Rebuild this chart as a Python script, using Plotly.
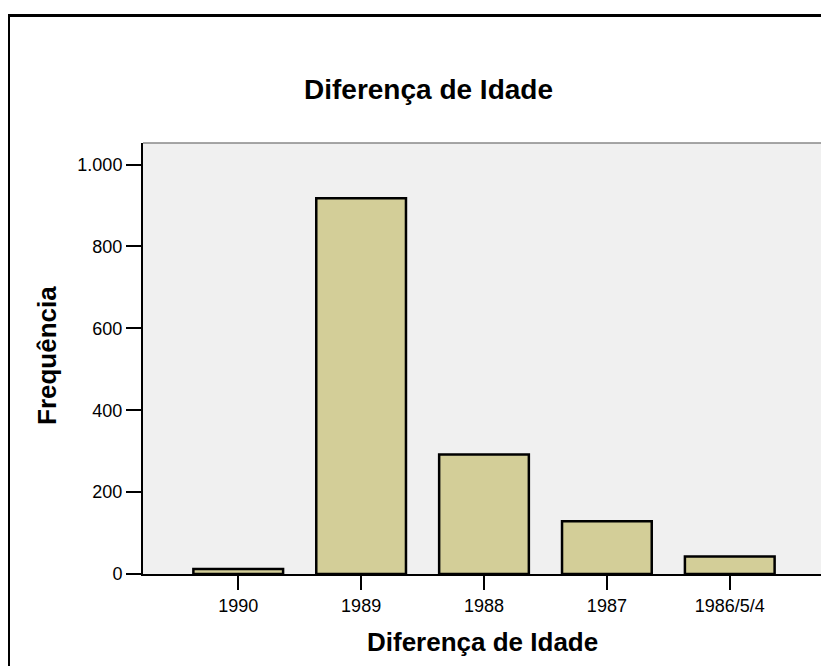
import plotly.graph_objects as go

categories = ["1990", "1989", "1988", "1987", "1986/5/4"]
frequencies = [12, 918, 292, 129, 43]
y_ticks = [0, 200, 400, 600, 800, 1000]

# page body has an 8px margin, so the figure is drawn 8px in from the edges
OFF = 8
W, H = 829 - OFF, 666 - OFF
L, R, T, B = 135, 4, 135, 92
pw, ph = W - L - R, H - T - B

def px(x):  # x in reference page pixels -> paper
    return (x - OFF - L) / pw

def py(y):  # y in reference page pixels -> paper
    return (H - B - (y - OFF)) / ph

FONT = "Liberation Sans, Arial, Helvetica, sans-serif"

fig = go.Figure()
fig.add_trace(go.Bar(
    x=categories, y=frequencies, width=0.73,
    marker=dict(color="#D3CE98", line=dict(color="black", width=2.5)),
    hoverinfo="x+y",
))

fig.update_layout(
    width=W, height=H,
    margin=dict(l=L, r=R, t=T, b=B, autoexpand=False),
    paper_bgcolor="white", plot_bgcolor="#F0F0F0",
    separators=",.",
    showlegend=False,
    font=dict(family=FONT, color="black"),
    xaxis=dict(
        range=[-0.775, 4.775], type="category",
        showgrid=False, zeroline=False,
        showline=True, linecolor="black", linewidth=2,
        ticks="outside", ticklen=14, tickwidth=2, tickcolor="black",
        tickfont=dict(size=18, family=FONT, color="black"),
    ),
    yaxis=dict(
        range=[0, 1052.7],
        tickvals=y_ticks, tickformat=",d",
        showgrid=False, zeroline=False,
        showline=True, linecolor="black", linewidth=2,
        ticks="outside", ticklen=15, tickwidth=2, tickcolor="black",
        tickfont=dict(size=18, family=FONT, color="black"),
    ),
    shapes=[
        # outer frame (extends off the page at right and bottom)
        dict(type="rect", xref="paper", yref="paper",
             x0=px(8.5), x1=px(900), y0=py(720), y1=py(15.5),
             line=dict(color="black", width=3), fillcolor="rgba(0,0,0,0)", layer="above"),
        # top border of plot area (gray)
        dict(type="line", xref="paper", yref="paper", x0=0, x1=1, y0=1, y1=1,
             line=dict(color="#888888", width=1.5)),
        # right border of plot area
        dict(type="line", xref="paper", yref="paper", x0=1, x1=1, y0=0, y1=1,
             line=dict(color="black", width=1.5)),
    ],
    annotations=[
        dict(text="<b>Diferença de Idade</b>", xref="paper", yref="paper",
             x=px(428), y=py(89), xanchor="center", yanchor="middle",
             showarrow=False, font=dict(size=28, family=FONT, color="black")),
        dict(text="<b>Diferença de Idade</b>", xref="paper", yref="paper",
             x=px(482.5), y=py(642), xanchor="center", yanchor="middle",
             showarrow=False, font=dict(size=26, family=FONT, color="black")),
        dict(text="<b>Frequência</b>", xref="paper", yref="paper",
             x=px(47), y=py(355), xanchor="center", yanchor="middle", textangle=-90,
             showarrow=False, font=dict(size=26, family=FONT, color="black")),
    ],
)

fig.write_html("out.html")
